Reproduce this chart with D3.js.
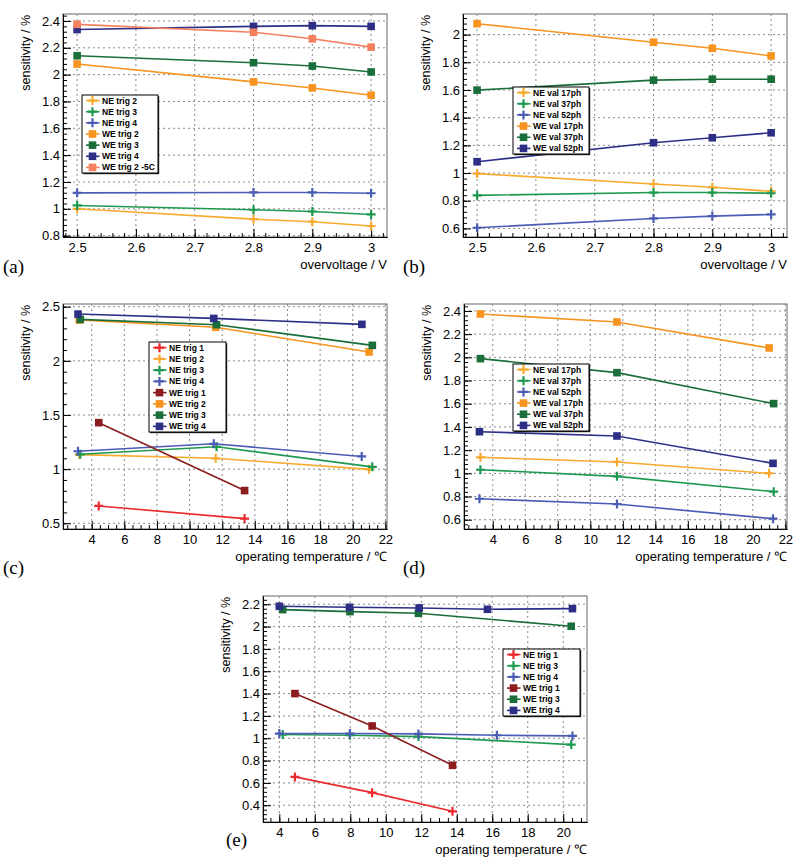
<!DOCTYPE html>
<html>
<head>
<meta charset="utf-8">
<script src="https://cdn.jsdelivr.net/npm/d3@7"></script>
<style>
  body { margin: 0; background: #fff; }
  svg { display: block; font-family: "Liberation Sans", Arial, Helvetica, sans-serif; }
</style>
</head>
<body>
<div id="chart"></div>
<script>
// ---- data ----
// (a) sensitivity vs overvoltage, trigger thresholds
const ovX = [2.5, 2.8, 2.9, 3];
const aNames = ["NE trig 2", "NE trig 3", "NE trig 4", "WE trig 2", "WE trig 3", "WE trig 4", "WE trig 2 -5C"];
const aValues = [
  [1.0, 0.923, 0.904, 0.872],
  [1.025, 0.993, 0.98, 0.958],
  [1.119, 1.122, 1.122, 1.116],
  [2.079, 1.946, 1.901, 1.847],
  [2.141, 2.089, 2.064, 2.02],
  [2.336, 2.36, 2.365, 2.36],
  [2.375, 2.316, 2.267, 2.205]
];

// (b) sensitivity vs overvoltage, validation thresholds
const bNames = ["NE val 17ph", "NE val 37ph", "NE val 52ph", "WE val 17ph", "WE val 37ph", "WE val 52ph"];
const bValues = [
  [0.996, 0.921, 0.897, 0.868],
  [0.839, 0.859, 0.859, 0.854],
  [0.605, 0.672, 0.689, 0.701],
  [2.079, 1.945, 1.901, 1.846],
  [1.599, 1.671, 1.678, 1.678],
  [1.082, 1.219, 1.255, 1.291]
];

// (c) sensitivity vs temperature, trigger thresholds
const cNames = ["NE trig 1", "NE trig 2", "NE trig 3", "NE trig 4", "WE trig 1", "WE trig 2", "WE trig 3", "WE trig 4"];
const cTemps = [
  [4.43, 13.37],
  [3.24, 11.6, 21.0],
  [3.3, 11.65, 21.2],
  [3.16, 11.48, 20.55],
  [4.43, 13.37],
  [3.24, 11.6, 21.0],
  [3.3, 11.65, 21.2],
  [3.16, 11.48, 20.56]
];
const cValues = [
  [0.66, 0.543],
  [1.134, 1.1, 0.998],
  [1.137, 1.206, 1.021],
  [1.165, 1.234, 1.117],
  [1.429, 0.802],
  [2.377, 2.31, 2.082],
  [2.383, 2.334, 2.143],
  [2.432, 2.392, 2.337]
];

// (d) sensitivity vs temperature, validation thresholds
const dNames = ["NE val 17ph", "NE val 37ph", "NE val 52ph", "WE val 17ph", "WE val 37ph", "WE val 52ph"];
const dTemps = [
  [3.24, 11.64, 21.0],
  [3.24, 11.64, 21.28],
  [3.18, 11.64, 21.24],
  [3.24, 11.64, 21.0],
  [3.24, 11.64, 21.28],
  [3.18, 11.64, 21.24]
];
const dValues = [
  [1.138, 1.098, 1.0],
  [1.031, 0.974, 0.842],
  [0.781, 0.735, 0.609],
  [2.374, 2.305, 2.081],
  [1.989, 1.868, 1.601],
  [1.359, 1.322, 1.086]
];

// (e) sensitivity vs temperature, second run
const eNames = ["NE trig 1", "NE trig 3", "NE trig 4", "WE trig 1", "WE trig 3", "WE trig 4"];
const eTemps = [
  [4.88, 9.23, 13.76],
  [4.19, 7.98, 11.84, 20.45],
  [4.0, 7.98, 11.84, 16.26, 20.52],
  [4.88, 9.23, 13.76],
  [4.19, 7.98, 11.84, 20.45],
  [4.0, 7.95, 11.88, 15.73, 20.52]
];
const eValues = [
  [0.654, 0.513, 0.346],
  [1.033, 1.027, 1.015, 0.943],
  [1.042, 1.042, 1.039, 1.027, 1.021],
  [1.4, 1.11, 0.758],
  [2.152, 2.134, 2.119, 2.003],
  [2.182, 2.173, 2.167, 2.155, 2.161]
];

// ---- styles ----
const seriesStyle = {
  "NE trig 1": { color: "#ec2a2e", mark: "plus" },
  "NE trig 2": { color: "#f8aa30", mark: "plus" },
  "NE trig 3": { color: "#1f9950", mark: "plus" },
  "NE trig 4": { color: "#4a5cb4", mark: "plus" },
  "WE trig 1": { color: "#8c1c1e", mark: "square" },
  "WE trig 2": { color: "#f7941f", mark: "square" },
  "WE trig 3": { color: "#1a6e3a", mark: "square" },
  "WE trig 4": { color: "#2d2f87", mark: "square" },
  "WE trig 2 -5C": { color: "#f5805f", mark: "square" },
  "NE val 17ph": { color: "#f8aa30", mark: "plus" },
  "NE val 37ph": { color: "#1f9950", mark: "plus" },
  "NE val 52ph": { color: "#4a5cb4", mark: "plus" },
  "WE val 17ph": { color: "#f7941f", mark: "square" },
  "WE val 37ph": { color: "#1a6e3a", mark: "square" },
  "WE val 52ph": { color: "#2d2f87", mark: "square" }
};

const FONT = "'Liberation Sans', Arial, Helvetica, sans-serif";

const svg = d3.select("#chart").append("svg")
  .attr("width", 800)
  .attr("height", 865)
  .attr("font-family", FONT);

const fmt = (d) => String(+d.toFixed(2));

function stepTicks(domain, step) {
  const lo = Math.ceil(domain[0] / step - 1e-6);
  const hi = Math.floor(domain[1] / step + 1e-6);
  return d3.range(lo, hi + 1).map((k) => +(k * step).toFixed(4));
}

function drawMark(g, type, color) {
  if (type === "plus") {
    g.append("path")
      .attr("d", "M-4.5,0H4.5M0,-4.5V4.5")
      .attr("stroke", color)
      .attr("stroke-width", 2.2)
      .attr("fill", "none");
  } else {
    g.append("rect")
      .attr("x", -3.8).attr("y", -3.8)
      .attr("width", 7.6).attr("height", 7.6)
      .attr("fill", color);
  }
}

function drawPanel(p) {
  const x = d3.scaleLinear().domain(p.xDomain).range([p.left, p.right]);
  const y = d3.scaleLinear().domain(p.yDomain).range([p.bottom, p.top]);
  const g = svg.append("g");

  const xMajor = stepTicks(p.xDomain, p.xStep);
  const yMajor = stepTicks(p.yDomain, p.yStep);
  const xMinor = stepTicks(p.xDomain, p.xStep / p.xSub);
  const yMinor = stepTicks(p.yDomain, p.yStep / p.ySub);

  // frame
  g.append("rect")
    .attr("x", p.left).attr("y", p.top)
    .attr("width", p.right - p.left).attr("height", p.bottom - p.top)
    .attr("fill", "none")
    .attr("stroke", "#666")
    .attr("stroke-width", 1);

  // dotted grid
  g.append("g").selectAll("line.gx")
    .data(xMajor.filter((v) => x(v) > p.left + 1 && x(v) < p.right - 1))
    .join("line")
    .attr("x1", (d) => x(d)).attr("x2", (d) => x(d))
    .attr("y1", p.top).attr("y2", p.bottom)
    .attr("stroke", "#8a8a8a").attr("stroke-dasharray", "2,3");
  g.append("g").selectAll("line.gy")
    .data(yMajor.filter((v) => y(v) > p.top + 1 && y(v) < p.bottom - 1))
    .join("line")
    .attr("x1", p.left).attr("x2", p.right)
    .attr("y1", (d) => y(d)).attr("y2", (d) => y(d))
    .attr("stroke", "#8a8a8a").attr("stroke-dasharray", "2,3");

  // axes: minor ticks then major ticks with labels
  const xMinorAxis = d3.axisBottom(x).tickValues(xMinor).tickSize(-4).tickSizeOuter(0).tickFormat("");
  const yMinorAxis = d3.axisLeft(y).tickValues(yMinor).tickSize(-4).tickSizeOuter(0).tickFormat("");
  const xAxis = d3.axisBottom(x).tickValues(xMajor).tickSize(-8).tickSizeOuter(0).tickPadding(3).tickFormat(fmt);
  const yAxis = d3.axisLeft(y).tickValues(yMajor).tickSize(-8).tickSizeOuter(0).tickPadding(3).tickFormat(fmt);

  [xMinorAxis, xAxis].forEach((ax) => {
    g.append("g").attr("transform", `translate(0,${p.bottom})`).call(ax)
      .attr("font-family", FONT).attr("font-size", 13)
      .call((s) => s.selectAll("text").attr("fill", "#000").attr("dy", "0.95em"))
      .call((s) => s.selectAll("line,path").attr("stroke", "#000"));
  });
  [yMinorAxis, yAxis].forEach((ax) => {
    g.append("g").attr("transform", `translate(${p.left},0)`).call(ax)
      .attr("font-family", FONT).attr("font-size", 13)
      .call((s) => s.selectAll("text").attr("fill", "#000"))
      .call((s) => s.selectAll("line,path").attr("stroke", "#000"));
  });

  // titles
  g.append("text")
    .attr("transform", `translate(${p.left - 33},${p.top + 1}) rotate(-90)`)
    .attr("text-anchor", "end")
    .attr("font-size", 12.5)
    .text("sensitivity / %");
  g.append("text")
    .attr("x", p.right)
    .attr("y", p.bottom + 32)
    .attr("text-anchor", "end")
    .attr("font-size", 13)
    .text(p.xTitle);
  g.append("text")
    .attr("x", p.tagX)
    .attr("y", p.tagY)
    .attr("font-family", "'Liberation Serif', 'DejaVu Serif', serif")
    .attr("font-size", 19)
    .text(p.tag);

  // series
  const line = d3.line().x((d) => x(d[0])).y((d) => y(d[1]));
  p.names.forEach((name, i) => {
    const st = seriesStyle[name];
    const pts = p.values[i].map((v, j) => [p.xs[i][j], v]);
    g.append("path")
      .datum(pts)
      .attr("d", line)
      .attr("fill", "none")
      .attr("stroke", st.color)
      .attr("stroke-width", 1.6);
    g.append("g").selectAll("g")
      .data(pts)
      .join("g")
      .attr("transform", (d) => `translate(${x(d[0])},${y(d[1])})`)
      .each(function () { drawMark(d3.select(this), st.mark, st.color); });
  });

  // legend
  const L = p.legend;
  const rowH = L.h / p.names.length;
  const lg = g.append("g").attr("transform", `translate(${L.x},${L.y})`);
  lg.append("rect")
    .attr("x", 1.2).attr("y", 1.2).attr("width", L.w).attr("height", L.h)
    .attr("fill", "#222");
  lg.append("rect")
    .attr("width", L.w).attr("height", L.h)
    .attr("fill", "#fff")
    .attr("stroke", "#000")
    .attr("stroke-width", 1);
  p.names.forEach((name, i) => {
    const st = seriesStyle[name];
    const cy = (i + 0.5) * rowH;
    lg.append("line")
      .attr("x1", 4).attr("x2", 17.5)
      .attr("y1", cy).attr("y2", cy)
      .attr("stroke", st.color).attr("stroke-width", 1.6);
    drawMark(lg.append("g").attr("transform", `translate(10.5,${cy})`), st.mark, st.color);
    lg.append("text")
      .attr("x", 20)
      .attr("y", cy)
      .attr("dy", "0.35em")
      .attr("font-size", 8.5)
      .attr("font-weight", "bold")
      .text(name);
  });
}

const ovTitle = "overvoltage / V";
const tTitle = "operating temperature / \u2103";

drawPanel({
  left: 63, right: 387, top: 14, bottom: 237,
  xDomain: [2.476, 3.027], yDomain: [0.79, 2.452],
  xStep: 0.1, xSub: 5, yStep: 0.2, ySub: 5,
  xTitle: ovTitle, tag: "(a)", tagX: 3, tagY: 273,
  names: aNames, values: aValues, xs: aNames.map(() => ovX),
  legend: { x: 82, y: 95, w: 76, h: 78 }
});

drawPanel({
  left: 463, right: 787, top: 14, bottom: 237,
  xDomain: [2.476, 3.027], yDomain: [0.538, 2.149],
  xStep: 0.1, xSub: 5, yStep: 0.2, ySub: 5,
  xTitle: ovTitle, tag: "(b)", tagX: 403, tagY: 273,
  names: bNames, values: bValues, xs: bNames.map(() => ovX),
  legend: { x: 513, y: 87, w: 76, h: 67 }
});

drawPanel({
  left: 63, right: 387, top: 304, bottom: 529,
  xDomain: [2.24, 22.1], yDomain: [0.447, 2.525],
  xStep: 2, xSub: 4, yStep: 0.5, ySub: 5,
  xTitle: tTitle, tag: "(c)", tagX: 3, tagY: 574,
  names: cNames, values: cValues, xs: cTemps,
  legend: { x: 149, y: 342, w: 77, h: 90 }
});

drawPanel({
  left: 464, right: 787, top: 304, bottom: 529,
  xDomain: [2.23, 22.1], yDomain: [0.52, 2.46],
  xStep: 2, xSub: 4, yStep: 0.2, ySub: 5,
  xTitle: tTitle, tag: "(d)", tagX: 403, tagY: 574,
  names: dNames, values: dValues, xs: dTemps,
  legend: { x: 513, y: 364, w: 76, h: 67 }
});

drawPanel({
  left: 263, right: 587, top: 596, bottom: 822,
  xDomain: [3.08, 21.34], yDomain: [0.25, 2.274],
  xStep: 2, xSub: 4, yStep: 0.2, ySub: 5,
  xTitle: tTitle, tag: "(e)", tagX: 226, tagY: 846,
  names: eNames, values: eValues, xs: eTemps,
  legend: { x: 503, y: 649, w: 77, h: 67 }
});
</script>
</body>
</html>
